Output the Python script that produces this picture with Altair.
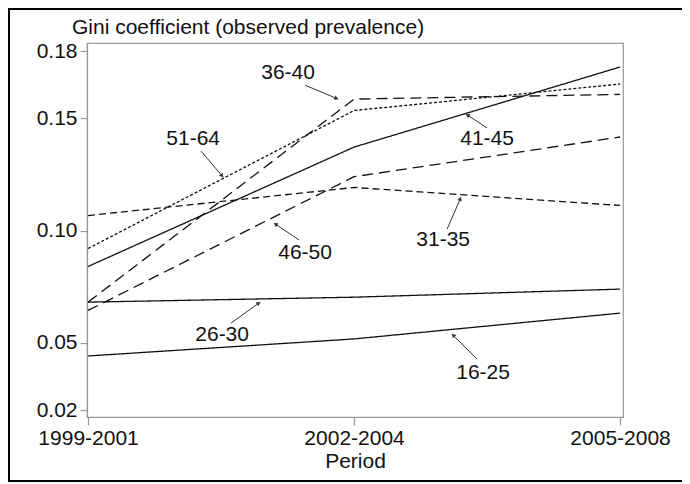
import math
import altair as alt
import pandas as pd

periods = ["1999-2001", "2002-2004", "2005-2008"]
groups = ["16-25", "26-30", "31-35", "36-40", "41-45", "46-50", "51-64"]
g16_25 = [0.0441, 0.0517, 0.0632]
g26_30 = [0.0681, 0.0703, 0.0739]
g31_35 = [0.1067, 0.1192, 0.1112]
g36_40 = [0.0681, 0.1586, 0.1607]
g41_45 = [0.0840, 0.1372, 0.1729]
g46_50 = [0.0644, 0.1240, 0.1417]
g51_64 = [0.0920, 0.1535, 0.1653]
series = [g16_25, g26_30, g31_35, g36_40, g41_45, g46_50, g51_64]
dashes = [[1, 0], [1, 0], [7, 4], [11, 6], [1, 0], [11, 6], [3, 2]]

y_ticks = [0.02, 0.05, 0.10, 0.15, 0.18]
y_title = "Gini coefficient (observed prevalence)"
x_title = "Period"

# annotation: label, text position, arrow tail, arrow tip (data units)
ann_labels = ["36-40", "51-64", "41-45", "46-50", "31-35", "26-30", "16-25"]
ann_text_x = [0.752, 0.395, 1.500, 0.816, 1.335, 0.504, 1.485]
ann_text_y = [0.1702, 0.1408, 0.1408, 0.0900, 0.0958, 0.0534, 0.0365]
ann_tail_x = [0.816, 0.425, 1.500, 0.793, 1.350, 0.538, 1.462]
ann_tail_y = [0.1648, 0.1354, 0.1457, 0.0958, 0.1007, 0.0588, 0.0427]
ann_tip_x = [0.940, 0.508, 1.421, 0.699, 1.402, 0.647, 1.368]
ann_tip_y = [0.1586, 0.1238, 0.1519, 0.1033, 0.1149, 0.0681, 0.0539]

W, H = 536, 374
x_dom = [-0.004, 2.011]
y_dom = [0.0169, 0.1836]
FONT = "Liberation Sans"
FS = 21

rows = []
for g, vals in zip(groups, series):
    for i, v in enumerate(vals):
        rows.append({"group": g, "x": i, "y": v})
df = pd.DataFrame(rows)

kx = W / (x_dom[1] - x_dom[0])
ky = H / (y_dom[1] - y_dom[0])
arows = []
for lab, tx, ty, ax, ay, bx, by in zip(ann_labels, ann_text_x, ann_text_y,
                                       ann_tail_x, ann_tail_y, ann_tip_x, ann_tip_y):
    dx = (bx - ax) * kx
    dy = -(by - ay) * ky
    ang = math.degrees(math.atan2(dx, -dy)) % 360
    L = math.hypot(dx, dy)
    hx = bx - (dx / L) * 2.5 / kx
    hy = by + (dy / L) * 2.5 / ky
    arows.append({"label": lab, "tx": tx, "ty": ty, "ax": ax, "ay": ay,
                  "bx": bx, "by": by, "hx": hx, "hy": hy, "ang": ang})
adf = pd.DataFrame(arows)

xs = alt.Scale(domain=x_dom, nice=False, zero=False)
ys = alt.Scale(domain=y_dom, nice=False, zero=False)

label_expr = "[" + ",".join("'" + p + "'" for p in periods) + "][datum.value]"

lines = alt.Chart(df).mark_line(strokeWidth=1.3, color="#111111").encode(
    x=alt.X("x:Q", scale=xs,
            axis=alt.Axis(values=[0, 1, 2], labelExpr=label_expr, title=x_title,
                          titleY=50, titleBaseline="alphabetic",
                          tickSize=8, labelPadding=2, grid=False)),
    y=alt.Y("y:Q", scale=ys,
            axis=alt.Axis(values=y_ticks, format=".2f", title=None,
                          tickSize=7, labelPadding=3, grid=False)),
    strokeDash=alt.StrokeDash("group:N", scale=alt.Scale(domain=groups, range=dashes),
                              legend=None),
    detail="group:N",
)

ytitle = alt.Chart(pd.DataFrame({"t": [y_title]})).mark_text(
    font=FONT, fontSize=FS, color="#111111", align="left", baseline="alphabetic").encode(
    x=alt.value(-15), y=alt.value(-9), text="t:N")

texts = alt.Chart(adf).mark_text(font=FONT, fontSize=FS, color="#111111",
                                 align="center", baseline="middle").encode(
    x=alt.X("tx:Q", scale=xs), y=alt.Y("ty:Q", scale=ys), text="label:N")

arrows = alt.Chart(adf).mark_rule(strokeWidth=1, color="#333333").encode(
    x=alt.X("ax:Q", scale=xs), y=alt.Y("ay:Q", scale=ys),
    x2="bx:Q", y2="by:Q")

heads = alt.Chart(adf).mark_point(shape="triangle", filled=True, size=22,
                                  color="#333333", opacity=1).encode(
    x=alt.X("hx:Q", scale=xs), y=alt.Y("hy:Q", scale=ys),
    angle=alt.Angle("ang:Q", scale=None))

frame = alt.Chart(pd.DataFrame({"k": [0]})).mark_rect(
    fill=None, stroke="#000000", strokeWidth=2).encode(
    x=alt.value(-78), x2=alt.value(640), y=alt.value(-34), y2=alt.value(438))

chart = alt.layer(lines, arrows, heads, texts, ytitle, frame).properties(
    width=W, height=H,
    autosize=alt.AutoSizeParams(type="none"),
    padding={"left": 79, "top": 35, "right": 59, "bottom": 65},
    background="white",
).configure_view(stroke="#999999", strokeWidth=1.2).configure_axis(
    labelFont=FONT, titleFont=FONT, labelFontSize=FS, titleFontSize=FS,
    labelColor="#111111", titleColor="#111111", titleFontWeight="normal",
    domainColor="#999999", tickColor="#999999", domainWidth=1.2, tickWidth=1.2,
)

chart.save("out.html", embed_options={"renderer": "svg", "actions": False})
